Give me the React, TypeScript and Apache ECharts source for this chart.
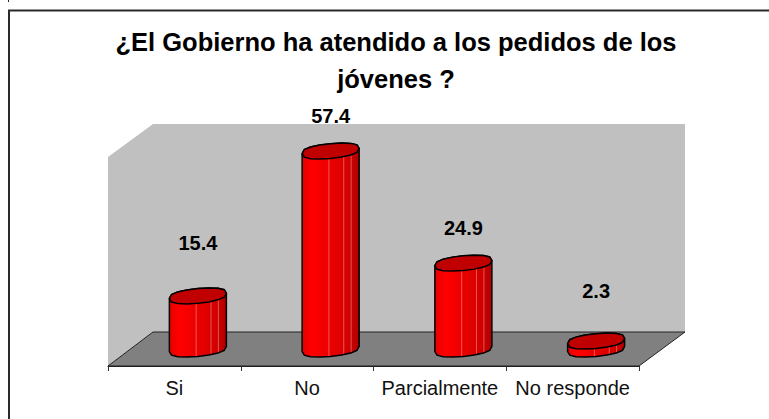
import React, { useEffect, useRef } from "react";
import * as echarts from "echarts";

const titleText = "¿El Gobierno ha atendido a los pedidos de los\njóvenes ?";
const categories = ["Si", "No", "Parcialmente", "No responde"];
const values = [15.4, 57.4, 24.9, 2.3];
const labelLift = [53, 35, 35, 50];
const FONT = '"Liberation Sans", Arial, sans-serif';

// 3-D look of the chart box, in pixels
const DEPTH_X = 45;
const DEPTH_Y = 34;
const BAR_A = 28.5;
const BAR_B = 7.4;
const BAR_SHEAR = 2.6;
const STREAKS = [0.47, 0.73, 0.86];

function rim(cx: number, cy: number, from: number, to: number, n: number) {
  const pts: number[][] = [];
  for (let i = 0; i <= n; i++) {
    const t = from + ((to - from) * i) / n;
    const s = Math.sin(t);
    pts.push([
      cx + BAR_A * Math.cos(t),
      cy + BAR_B * Math.sign(s) * Math.pow(Math.abs(s), 0.7) - BAR_SHEAR * Math.cos(t),
    ]);
  }
  return pts;
}

export default function App() {
  const ref = useRef<HTMLDivElement>(null);
  useEffect(() => {
    document.body.style.margin = "0";
    const chart = echarts.init(ref.current!, undefined, { renderer: "svg" });
    chart.setOption({
      animation: false,
      backgroundColor: "#ffffff",
      title: {
        text: titleText,
        left: 391,
        top: 18,
        textAlign: "center",
        textStyle: {
          fontFamily: FONT,
          fontWeight: "bold",
          fontSize: 25.5,
          lineHeight: 37,
          color: "#000000",
        },
      },
      grid: { left: 108, top: 157, width: 531, height: 209 },
      xAxis: {
        type: "category",
        data: categories,
        boundaryGap: true,
        axisLine: { show: true, lineStyle: { color: "#1a1a1a", width: 1 } },
        axisTick: { show: true, length: 5, lineStyle: { color: "#333333" } },
        axisLabel: {
          show: true,
          interval: 0,
          margin: 12,
          fontFamily: FONT,
          fontSize: 20,
          color: "#111111",
        },
      },
      yAxis: { type: "value", min: 0, max: 60.6, show: false, splitLine: { show: false } },
      graphic: [
        {
          type: "polyline",
          shape: { points: [[9, 419], [9, 10.5], [769, 10.5]] },
          style: { stroke: "#2a2a2a", lineWidth: 2, fill: "none" },
        },
        {
          type: "line",
          shape: { x1: 8.5, y1: 0, x2: 8.5, y2: 2 },
          style: { stroke: "#222222", lineWidth: 1 },
        },
      ],
      series: [
        {
          type: "custom",
          coordinateSystem: "cartesian2d",
          silent: true,
          clip: false,
          z: 1,
          data: [[0, 0]],
          renderItem: (_: any, api: any) => {
            const [x0, y0] = api.coord([0, 0]);
            const size = api.size([1, 0]);
            const x1 = x0 - size[0] / 2;
            const x2 = x1 + size[0] * 4;
            const bottom = y0;
            const top = api.coord([0, 60.6])[1];
            const wall = "#c0c0c0";
            return {
              type: "group",
              children: [
                {
                  type: "polygon",
                  shape: {
                    points: [
                      [x1, bottom],
                      [x1, top],
                      [x1 + DEPTH_X, top - DEPTH_Y + 1],
                      [x2 + DEPTH_X + 1, top - DEPTH_Y + 1],
                      [x2 + DEPTH_X + 1, bottom - DEPTH_Y],
                      [x1 + DEPTH_X, bottom - DEPTH_Y],
                    ],
                  },
                  style: { fill: wall },
                },
                {
                  type: "polygon",
                  shape: {
                    points: [
                      [x1, bottom],
                      [x1 + DEPTH_X, bottom - DEPTH_Y],
                      [x2 + DEPTH_X + 1, bottom - DEPTH_Y],
                      [x2, bottom],
                    ],
                  },
                  style: { fill: "#808080", stroke: "#222222", lineWidth: 1 },
                },
              ],
            };
          },
        },
        {
          type: "custom",
          coordinateSystem: "cartesian2d",
          silent: true,
          clip: false,
          z: 2,
          data: values.map((v, i) => [i, v, labelLift[i]]),
          renderItem: (_: any, api: any) => {
            const i = api.value(0);
            const v = api.value(1);
            const lift = api.value(2);
            const top = api.coord([i, v]);
            const base = api.coord([i, 0]);
            const cx = top[0] + DEPTH_X / 2 + 1;
            const cyTop = top[1] - DEPTH_Y / 2;
            const cyBase = base[1] - DEPTH_Y / 2;
            const lower = rim(cx, cyBase, 0, Math.PI, 8);
            const upper = rim(cx, cyTop, Math.PI, 2 * Math.PI, 8);
            const lid = rim(cx, cyTop, 0, 2 * Math.PI, 16);
            const gradient = new echarts.graphic.LinearGradient(0, 0, 1, 0, [
              { offset: 0, color: "#e60000" },
              { offset: 0.18, color: "#ff0000" },
              { offset: 0.5, color: "#ea0000" },
              { offset: 0.8, color: "#d40000" },
              { offset: 1, color: "#b00000" },
            ]);
            const streaks = STREAKS.map((f) => {
              const x = cx - BAR_A + 2 * BAR_A * f;
              const c = (x - cx) / BAR_A;
              const s = Math.pow(Math.sqrt(1 - c * c), 0.7);
              return {
                type: "line",
                shape: {
                  x1: x,
                  y1: cyTop + BAR_B * s - BAR_SHEAR * c,
                  x2: x,
                  y2: cyBase + BAR_B * s - BAR_SHEAR * c,
                },
                style: { stroke: "rgba(255,190,190,0.45)", lineWidth: 1 },
              };
            });
            return {
              type: "group",
              children: [
                {
                  type: "polygon",
                  shape: { points: [...lower, ...upper] },
                  style: { fill: gradient, stroke: "none" },
                },
                ...streaks,
                {
                  type: "polygon",
                  shape: { points: [...lower, ...upper] },
                  style: { fill: "none", stroke: "#000000", lineWidth: 1.5 },
                },
                {
                  type: "polygon",
                  shape: { points: lid },
                  style: { fill: "#c00000", stroke: "#000000", lineWidth: 1.5 },
                },
                {
                  type: "text",
                  style: {
                    text: String(v),
                    x: cx,
                    y: cyTop - lift,
                    align: "center",
                    verticalAlign: "middle",
                    font: `bold 20px ${FONT}`,
                    fill: "#000000",
                  },
                },
              ],
            };
          },
        },
      ],
    });
    return () => chart.dispose();
  }, []);
  return <div ref={ref} style={{ position: "absolute", left: 0, top: 0, width: 769, height: 419 }} />;
}
